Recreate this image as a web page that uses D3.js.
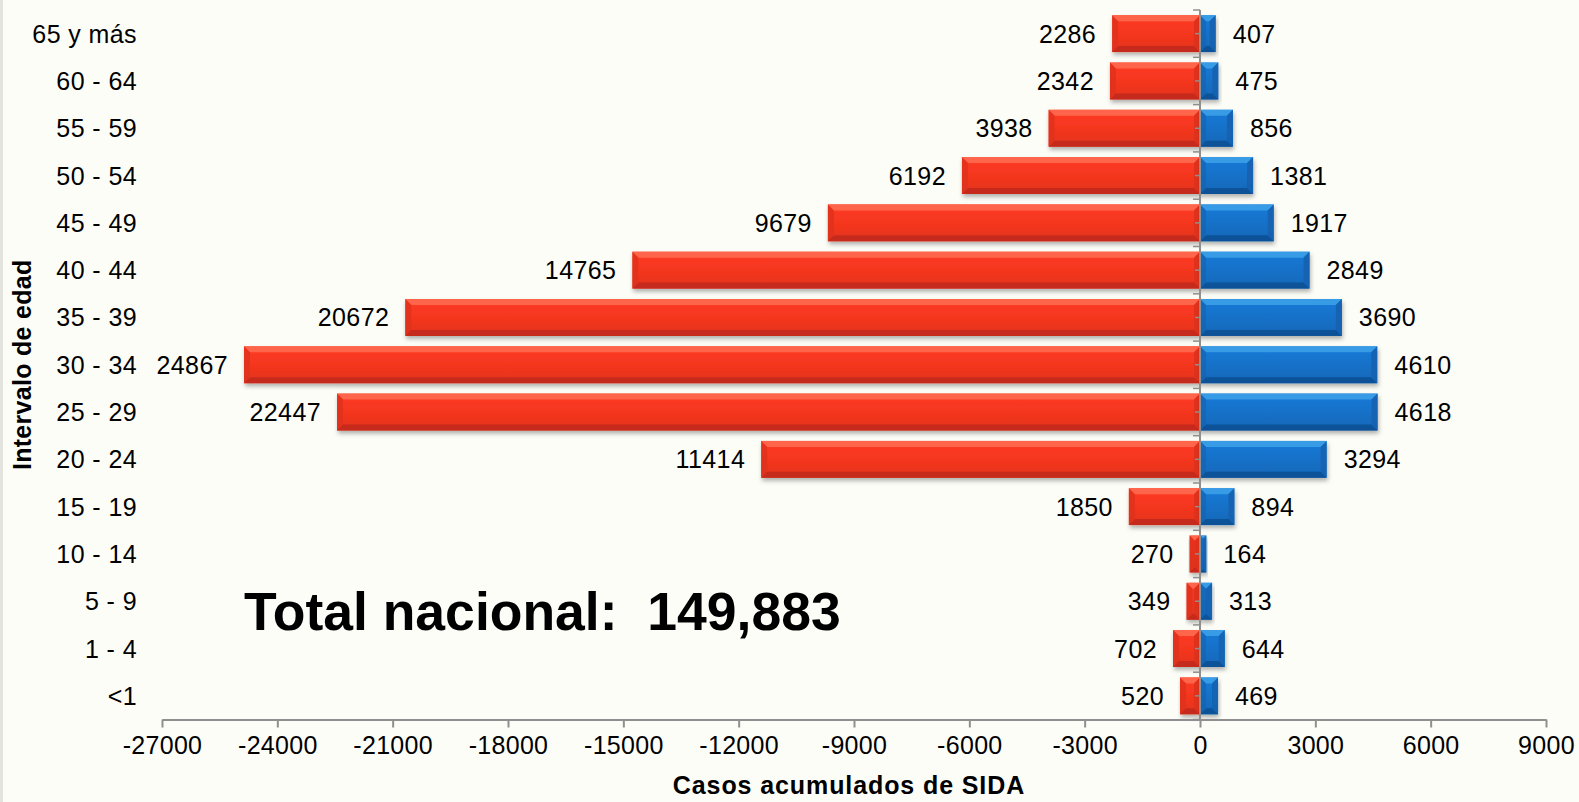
<!DOCTYPE html>
<html>
<head>
<meta charset="utf-8">
<script src="https://cdn.jsdelivr.net/npm/d3@7"></script>
<style>
  html, body { margin: 0; padding: 0; background: #fdfdf8; }
  svg { display: block; }
  text { font-family: "Liberation Sans", Arial, sans-serif; fill: #000; }
</style>
</head>
<body>
<div id="chart"></div>
<script>
// grupos de edad, de arriba hacia abajo
const categories = ["65 y más", "60 - 64", "55 - 59", "50 - 54", "45 - 49", "40 - 44", "35 - 39",
  "30 - 34", "25 - 29", "20 - 24", "15 - 19", "10 - 14", "5 - 9", "1 - 4", "<1"];
// serie roja (se dibuja a la izquierda, valores negativos)
const rojo = [2286, 2342, 3938, 6192, 9679, 14765, 20672, 24867, 22447, 11414, 1850, 270, 349, 702, 520];
// serie azul (a la derecha)
const azul = [407, 475, 856, 1381, 1917, 2849, 3690, 4610, 4618, 3294, 894, 164, 313, 644, 469];
const xTicks = [-27000, -24000, -21000, -18000, -15000, -12000, -9000, -6000, -3000, 0, 3000, 6000, 9000];
const totalLabel = "Total nacional:  149,883";

const width = 1579, height = 802;

const svg = d3.select("#chart").append("svg")
  .attr("width", width)
  .attr("height", height);

svg.append("rect").attr("width", width).attr("height", height).attr("fill", "#fdfdf8");
svg.append("rect").attr("width", 3).attr("height", height).attr("fill", "#e4e4df");

const defs = svg.append("defs");
const shadow = defs.append("filter").attr("id", "shadow")
  .attr("x", "-10%").attr("y", "-30%").attr("width", "130%").attr("height", "180%");
shadow.append("feDropShadow")
  .attr("dx", 1).attr("dy", 3).attr("stdDeviation", 2.2)
  .attr("flood-color", "#000").attr("flood-opacity", 0.3);

const x = d3.scaleLinear().domain([-27000, 9000]).range([162, 1546]);
const y = d3.scaleBand().domain(categories).range([10, 719.5]).paddingInner(0.22).paddingOuter(0.11);

const colors = {
  rojo: { base: "#f3361f", light: "#ff6a50", dark: "#c02a1a", side: "#dc301c" },
  azul: { base: "#1670c6", light: "#3b9fe8", dark: "#0d4e92", side: "#1262b0" }
};

// degradados suaves para el cuerpo de las barras
Object.entries(colors).forEach(([k, c]) => {
  const gr = defs.append("linearGradient").attr("id", "grad-" + k)
    .attr("x1", 0).attr("x2", 0).attr("y1", 0).attr("y2", 1);
  gr.append("stop").attr("offset", "0%").attr("stop-color", d3.color(c.base).brighter(0.25));
  gr.append("stop").attr("offset", "55%").attr("stop-color", c.base);
  gr.append("stop").attr("offset", "100%").attr("stop-color", d3.color(c.base).darker(0.2));
});

const rows = categories.map((c, i) => ({ cat: c, rojo: rojo[i], azul: azul[i] }));

function bevelBar(g, x0, x1, y0, h, key) {
  const col = colors[key];
  const w = x1 - x0;
  const b = Math.min(6, w / 2, h / 2);
  const grp = g.append("g").attr("filter", "url(#shadow)");
  grp.append("rect").attr("x", x0).attr("y", y0).attr("width", w).attr("height", h).attr("fill", `url(#grad-${key})`);
  // bisel superior
  grp.append("polygon")
    .attr("points", [[x0, y0], [x1, y0], [x1 - b, y0 + b], [x0 + b, y0 + b]].join(" "))
    .attr("fill", col.light).attr("opacity", 0.9);
  // bisel inferior
  grp.append("polygon")
    .attr("points", [[x0, y0 + h], [x1, y0 + h], [x1 - b, y0 + h - b], [x0 + b, y0 + h - b]].join(" "))
    .attr("fill", col.dark).attr("opacity", 0.85);
  // biseles laterales
  grp.append("polygon")
    .attr("points", [[x0, y0], [x0 + b, y0 + b], [x0 + b, y0 + h - b], [x0, y0 + h]].join(" "))
    .attr("fill", col.side).attr("opacity", 0.7);
  grp.append("polygon")
    .attr("points", [[x1, y0], [x1 - b, y0 + b], [x1 - b, y0 + h - b], [x1, y0 + h]].join(" "))
    .attr("fill", col.side).attr("opacity", 0.9);
}

const bars = svg.append("g");
rows.forEach(d => {
  bevelBar(bars, x(-d.rojo), x(0), y(d.cat), y.bandwidth(), "rojo");
  bevelBar(bars, x(0), x(d.azul), y(d.cat), y.bandwidth(), "azul");
});

// etiquetas de valores
const labelStyle = sel => sel.attr("font-size", 25).attr("letter-spacing", "0.4px").attr("dy", "0.36em");
svg.append("g").selectAll("text").data(rows).join("text")
  .attr("x", d => x(-d.rojo) - 16)
  .attr("y", d => y(d.cat) + y.bandwidth() / 2)
  .attr("text-anchor", "end")
  .call(labelStyle)
  .text(d => d.rojo);
svg.append("g").selectAll("text").data(rows).join("text")
  .attr("x", d => x(d.azul) + 17)
  .attr("y", d => y(d.cat) + y.bandwidth() / 2)
  .call(labelStyle)
  .text(d => d.azul);

// categorías
svg.append("g").selectAll("text").data(categories).join("text")
  .attr("x", 137)
  .attr("y", d => y(d) + y.bandwidth() / 2)
  .attr("text-anchor", "end")
  .call(labelStyle)
  .text(d => d);

// eje vertical en cero con marcas
const axisCol = "#8f8f8f";
const step = y.step();
const yTop = y.range()[0], yBot = y.range()[1];
const zero = svg.append("g");
zero.append("line").attr("x1", x(0)).attr("x2", x(0)).attr("y1", yTop).attr("y2", yBot)
  .attr("stroke", axisCol).attr("stroke-width", 2);
d3.range(0, categories.length * 2 + 1).forEach(k => {
  const yy = yTop + k * step / 2;
  zero.append("line").attr("x1", x(0) - (k % 2 ? 5 : 7)).attr("x2", x(0)).attr("y1", yy).attr("y2", yy)
    .attr("stroke", axisCol).attr("stroke-width", 1.5);
});

// eje horizontal
const xAxis = svg.append("g")
  .attr("transform", `translate(0,${yBot})`)
  .call(d3.axisBottom(x).tickValues(xTicks).tickSize(8).tickSizeOuter(0).tickPadding(9).tickFormat(d => String(d)));
xAxis.select(".domain").attr("stroke", axisCol).attr("stroke-width", 2);
xAxis.selectAll(".tick line").attr("stroke", axisCol).attr("stroke-width", 2);
xAxis.selectAll(".tick text")
  .attr("font-family", "Liberation Sans, Arial, sans-serif")
  .attr("font-size", 25).attr("letter-spacing", "0.3px").attr("fill", "#000");

// títulos
svg.append("text")
  .attr("x", 849).attr("y", 794)
  .attr("text-anchor", "middle")
  .attr("font-size", 25).attr("font-weight", "bold").attr("letter-spacing", "0.9px")
  .text("Casos acumulados de SIDA");

svg.append("text")
  .attr("transform", `translate(31,${(yTop + yBot) / 2}) rotate(-90)`)
  .attr("text-anchor", "middle")
  .attr("font-size", 25).attr("font-weight", "bold").attr("letter-spacing", "0.3px")
  .text("Intervalo de edad");

svg.append("text")
  .attr("x", 244).attr("y", 630)
  .attr("font-size", 53.5).attr("font-weight", "bold")
  .attr("xml:space", "preserve").style("white-space", "pre")
  .text(totalLabel);
</script>
</body>
</html>
